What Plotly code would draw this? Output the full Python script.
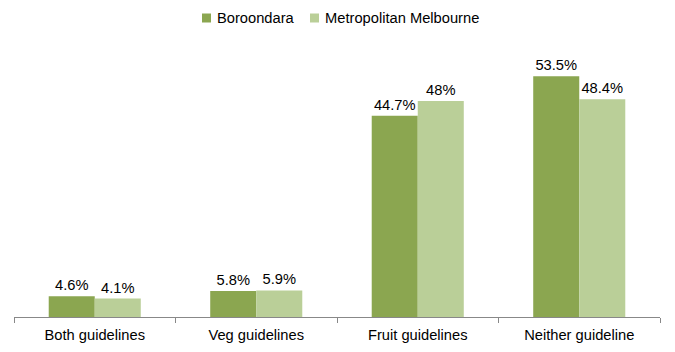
import plotly.graph_objects as go

categories = ["Both guidelines", "Veg guidelines", "Fruit guidelines", "Neither guideline"]
series_names = ["Boroondara", "Metropolitan Melbourne"]
boroondara = [4.6, 5.8, 44.7, 53.5]
metro = [4.1, 5.9, 48.0, 48.4]
colors = ["#8BA650", "#BACF98"]

FS = 14.7
W, H = 675, 352
ML, MR, MT, MB = 14, 15, 47, 35
PW, PH = W - ML - MR, H - MT - MB

fig = go.Figure()
for name, vals, col in zip(series_names, [boroondara, metro], colors):
    fig.add_trace(go.Bar(
        name=name, x=categories, y=vals,
        marker=dict(color=col, line=dict(width=0)),
        text=[f"{v:g}%" for v in vals], textposition="outside",
        textfont=dict(family="Liberation Sans, Arial", size=FS, color="#000"),
        cliponaxis=False, showlegend=False,
    ))

def px_x(px):
    return (px - ML) / PW

def px_y(py):
    return (H - MB - py) / PH

# manual legend (pixel placement)
legend_items = [(202, 215), (310, 323)]
for (sx, tx), name, col in zip(legend_items, series_names, colors):
    fig.add_shape(type="rect", xref="paper", yref="paper",
                  x0=px_x(sx), x1=px_x(sx + 9), y0=px_y(22.5), y1=px_y(13.5),
                  fillcolor=col, line=dict(width=0))
    fig.add_annotation(xref="paper", yref="paper", x=px_x(tx), y=px_y(18),
                       xanchor="left", yanchor="middle", text=name, showarrow=False,
                       font=dict(family="Liberation Sans, Arial", size=FS, color="#000"))

fig.update_layout(
    width=W, height=H,
    margin=dict(l=ML, r=MR, t=MT, b=MB, autoexpand=False),
    paper_bgcolor="white", plot_bgcolor="white",
    barmode="group", bargap=0.43, bargroupgap=0,
    font=dict(family="Liberation Sans, Arial", size=FS, color="#000"),
    showlegend=False,
    uniformtext=dict(mode=False),
)
fig.update_xaxes(
    showline=True, linecolor="#888888", linewidth=1,
    ticks="outside", tickson="boundaries", ticklen=5, tickcolor="#888888",
    showgrid=False, tickfont=dict(size=FS), ticklabelstandoff=4,
)
fig.update_yaxes(range=[0, 60], visible=False, showgrid=False)

fig.write_html("out.html")
